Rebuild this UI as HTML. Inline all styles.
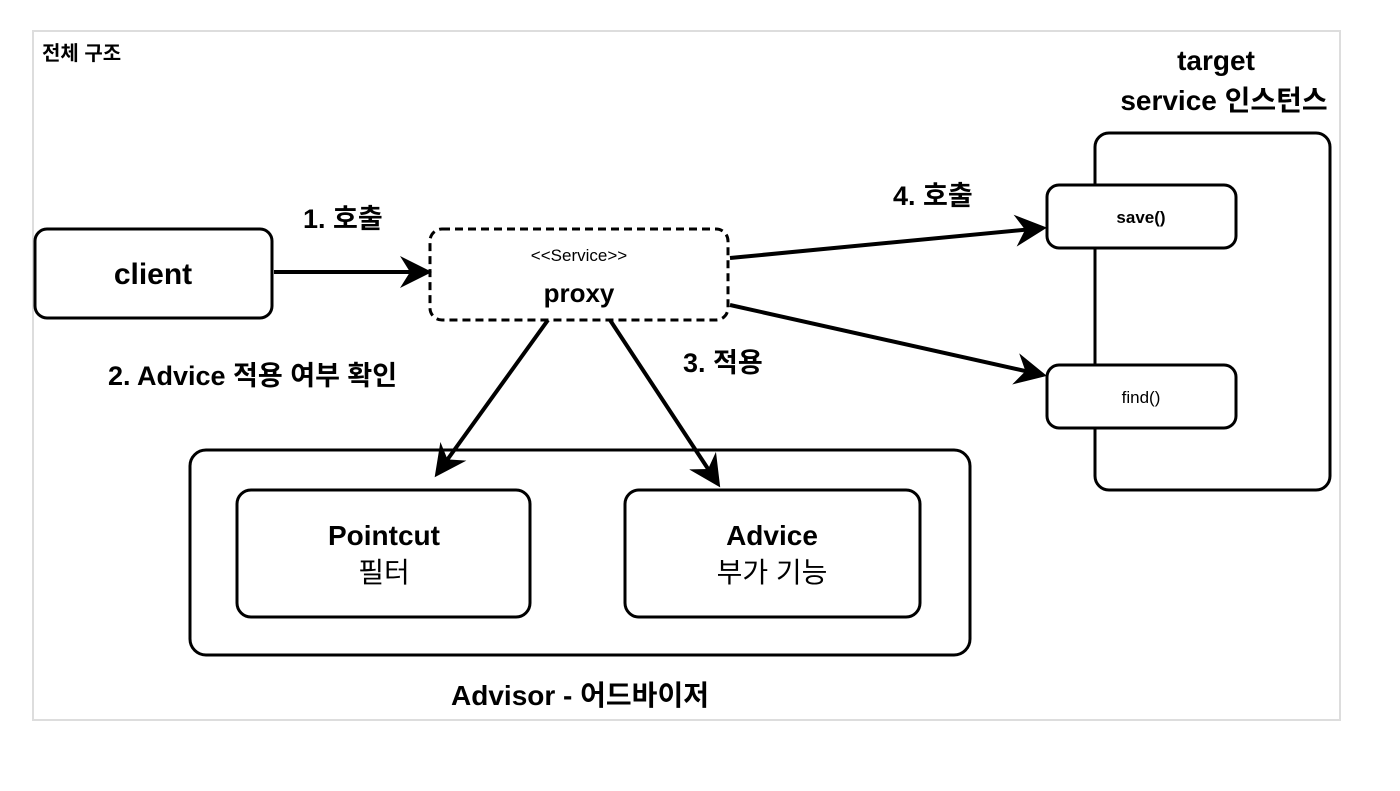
<!DOCTYPE html>
<html><head><meta charset="utf-8"><style>
body{margin:0;background:#fff;}
svg text{font-family:"Liberation Sans","Noto Sans CJK KR",sans-serif;fill:#000;}
</style></head><body>
<svg width="1400" height="786" xmlns="http://www.w3.org/2000/svg">
<defs><marker id="a" markerWidth="8" markerHeight="8" refX="7" refY="4" orient="auto" markerUnits="strokeWidth"><path d="M0,0 L8,4 L0,8 L2.5,4 z" fill="#000"/></marker></defs>
<rect x="33" y="31" width="1307" height="689" fill="#fff" stroke="#ddd" stroke-width="2"/>
<text x="42" y="60" font-size="20" font-weight="bold">전체 구조</text>
<rect x="35" y="229" width="237" height="89" rx="12" fill="none" stroke="#000" stroke-width="3"/>
<text x="153" y="284" font-size="30" text-anchor="middle" font-weight="bold">client</text>
<rect x="430" y="229" width="298" height="91" rx="12" fill="none" stroke="#000" stroke-width="3" stroke-dasharray="8,5"/>
<text x="579" y="261" font-size="17" text-anchor="middle">&lt;&lt;Service&gt;&gt;</text>
<text x="579" y="302" font-size="26" text-anchor="middle" font-weight="bold">proxy</text>
<rect x="1095" y="133" width="235" height="357" rx="14" fill="#fff" stroke="#000" stroke-width="3"/>
<rect x="1047" y="185" width="189" height="63" rx="12" fill="#fff" stroke="#000" stroke-width="3"/>
<text x="1141" y="223" font-size="17" text-anchor="middle" font-weight="bold">save()</text>
<rect x="1047" y="365" width="189" height="63" rx="12" fill="#fff" stroke="#000" stroke-width="3"/>
<text x="1141" y="403" font-size="17" text-anchor="middle">find()</text>
<text x="1216" y="70" font-size="28" text-anchor="middle" font-weight="bold">target</text>
<text x="1224" y="110" font-size="28" text-anchor="middle" font-weight="bold">service 인스턴스</text>
<rect x="190" y="450" width="780" height="205" rx="16" fill="none" stroke="#000" stroke-width="3"/>
<rect x="237" y="490" width="293" height="127" rx="14" fill="none" stroke="#000" stroke-width="3"/>
<text x="384" y="545" font-size="28" text-anchor="middle" font-weight="bold">Pointcut</text>
<text x="384" y="582" font-size="28" text-anchor="middle">필터</text>
<rect x="625" y="490" width="295" height="127" rx="14" fill="none" stroke="#000" stroke-width="3"/>
<text x="772" y="545" font-size="28" text-anchor="middle" font-weight="bold">Advice</text>
<text x="772" y="582" font-size="28" text-anchor="middle">부가 기능</text>
<text x="580" y="705" font-size="28" text-anchor="middle" font-weight="bold">Advisor - 어드바이저</text>
<text x="303" y="228" font-size="27" font-weight="bold">1. 호출</text>
<text x="893" y="205" font-size="27" font-weight="bold">4. 호출</text>
<text x="108" y="385" font-size="27" font-weight="bold">2. Advice 적용 여부 확인</text>
<text x="683" y="372" font-size="27" font-weight="bold">3. 적용</text>
<g stroke="#000" stroke-width="4" fill="none" marker-end="url(#a)">
<line x1="274" y1="272" x2="428" y2="272"/>
<line x1="730" y1="258" x2="1043" y2="228"/>
<line x1="730" y1="305" x2="1043" y2="375"/>
<line x1="548" y1="320" x2="437" y2="474"/>
<line x1="610" y1="320" x2="718" y2="484"/>
</g>
</svg>
</body></html>
